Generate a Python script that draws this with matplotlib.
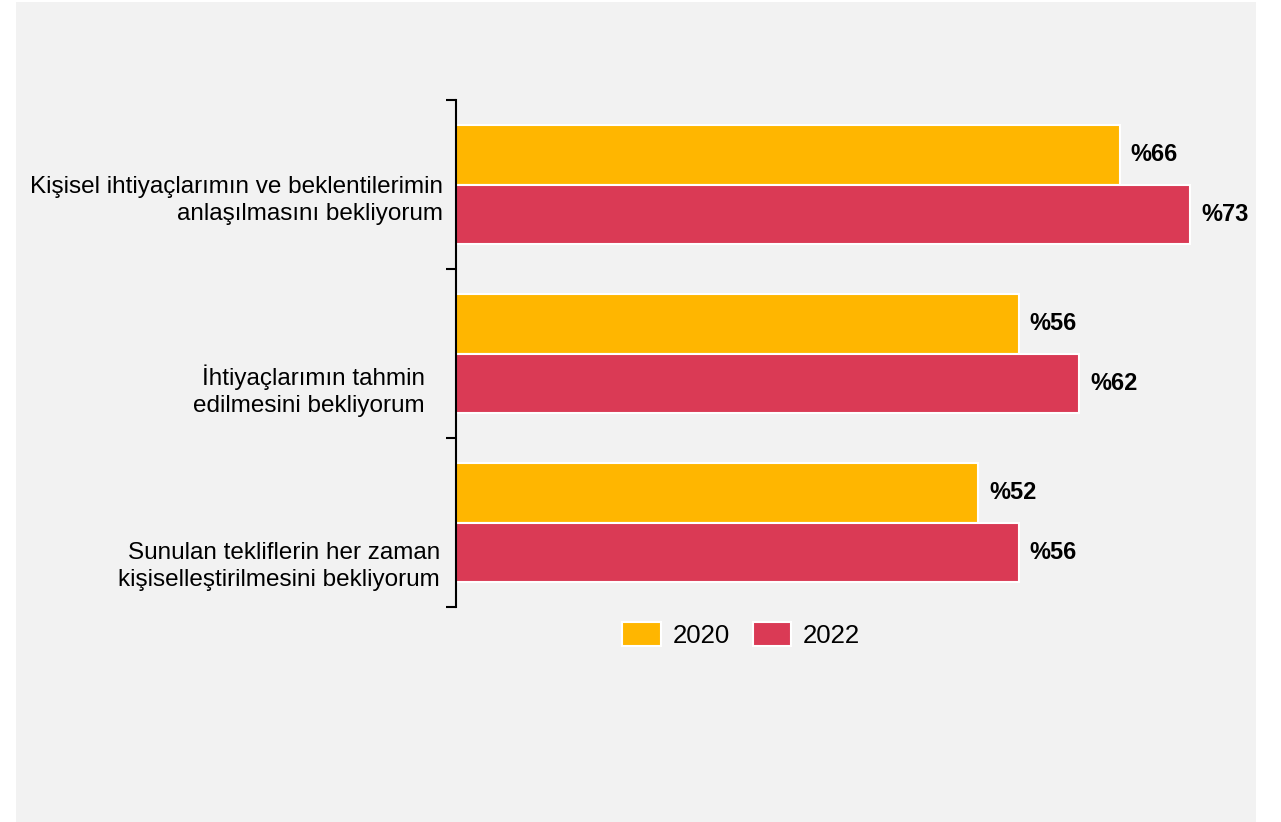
import matplotlib.pyplot as plt
from matplotlib.patches import Rectangle
from matplotlib.transforms import ScaledTranslation
import numpy as np

categories = [
    'Kişisel ihtiyaçlarımın ve beklentilerimin\nanlaşılmasını bekliyorum',
    'İhtiyaçlarımın tahmin\nedilmesini bekliyorum',
    'Sunulan tekliflerin her zaman\nkişiselleştirilmesini bekliyorum',
]
values_2020 = [66, 56, 52]
values_2022 = [73, 62, 56]
series_names = ['2020', '2022']
colors = ['#FFB600', '#DA3A55']

# labels in the original are not placed evenly: small shifts (y in data, x in px)
label_shift = [0.065, 0.19, 0.23]
label_dx = [1, -17, -2]

plt.rcParams['font.family'] = ['Liberation Sans', 'DejaVu Sans']

fig = plt.figure(figsize=(12.81, 8.22), dpi=100)
fig.patch.set_facecolor('white')
# grey panel behind the chart
fig.patches.append(Rectangle((16 / 1281, 0), 1240 / 1281, 820 / 822,
                             transform=fig.transFigure, facecolor='#f2f2f2',
                             edgecolor='none', zorder=-10))

ax = fig.add_axes([456 / 1281, 1 - 607 / 822, 805 / 1281, 507 / 822])
ax.set_facecolor('none')

y = np.arange(len(categories))
h = 0.355
bars1 = ax.barh(y - h / 2, values_2020, height=h, color=colors[0],
                edgecolor='white', linewidth=1.5, label=series_names[0])
bars2 = ax.barh(y + h / 2, values_2022, height=h, color=colors[1],
                edgecolor='white', linewidth=1.5, label=series_names[1])

for bars, vals in [(bars1, values_2020), (bars2, values_2022)]:
    for b, v in zip(bars, vals):
        ax.annotate(f'%{v}', (v, b.get_y() + b.get_height() / 2),
                    xytext=(8, 0), textcoords='offset points',
                    va='center', ha='left', fontsize=17, fontweight='bold')

ax.set_xlim(0.3, 80)
ax.set_ylim(len(categories) - 0.5, -0.5)

ax.set_yticks(np.arange(-0.5, len(categories)), labels=[])
ax.set_yticks(y + np.array(label_shift), labels=categories, minor=True)
ax.tick_params(axis='y', which='major', length=7, width=1.5, color='black')
ax.tick_params(axis='y', which='minor', length=0, pad=10, labelsize=17.5)
for lbl, dx in zip(ax.get_yticklabels(minor=True), label_dx):
    lbl.set_horizontalalignment('right')
    lbl.set_multialignment('right')
    lbl.set_linespacing(1.32)
    lbl.set_transform(lbl.get_transform()
                      + ScaledTranslation(dx / 100, 0, fig.dpi_scale_trans))

ax.set_xticks([])
for s in ['top', 'right', 'bottom']:
    ax.spines[s].set_visible(False)
ax.spines['left'].set_linewidth(1.5)

fig.legend(loc='center', bbox_to_anchor=(741 / 1281, 1 - 635 / 822),
           ncol=2, frameon=False, fontsize=18.5, handlelength=1.5,
           handleheight=1.05, handletextpad=0.45, columnspacing=0.9)

fig.savefig('out.png', dpi=100, facecolor=fig.get_facecolor())
